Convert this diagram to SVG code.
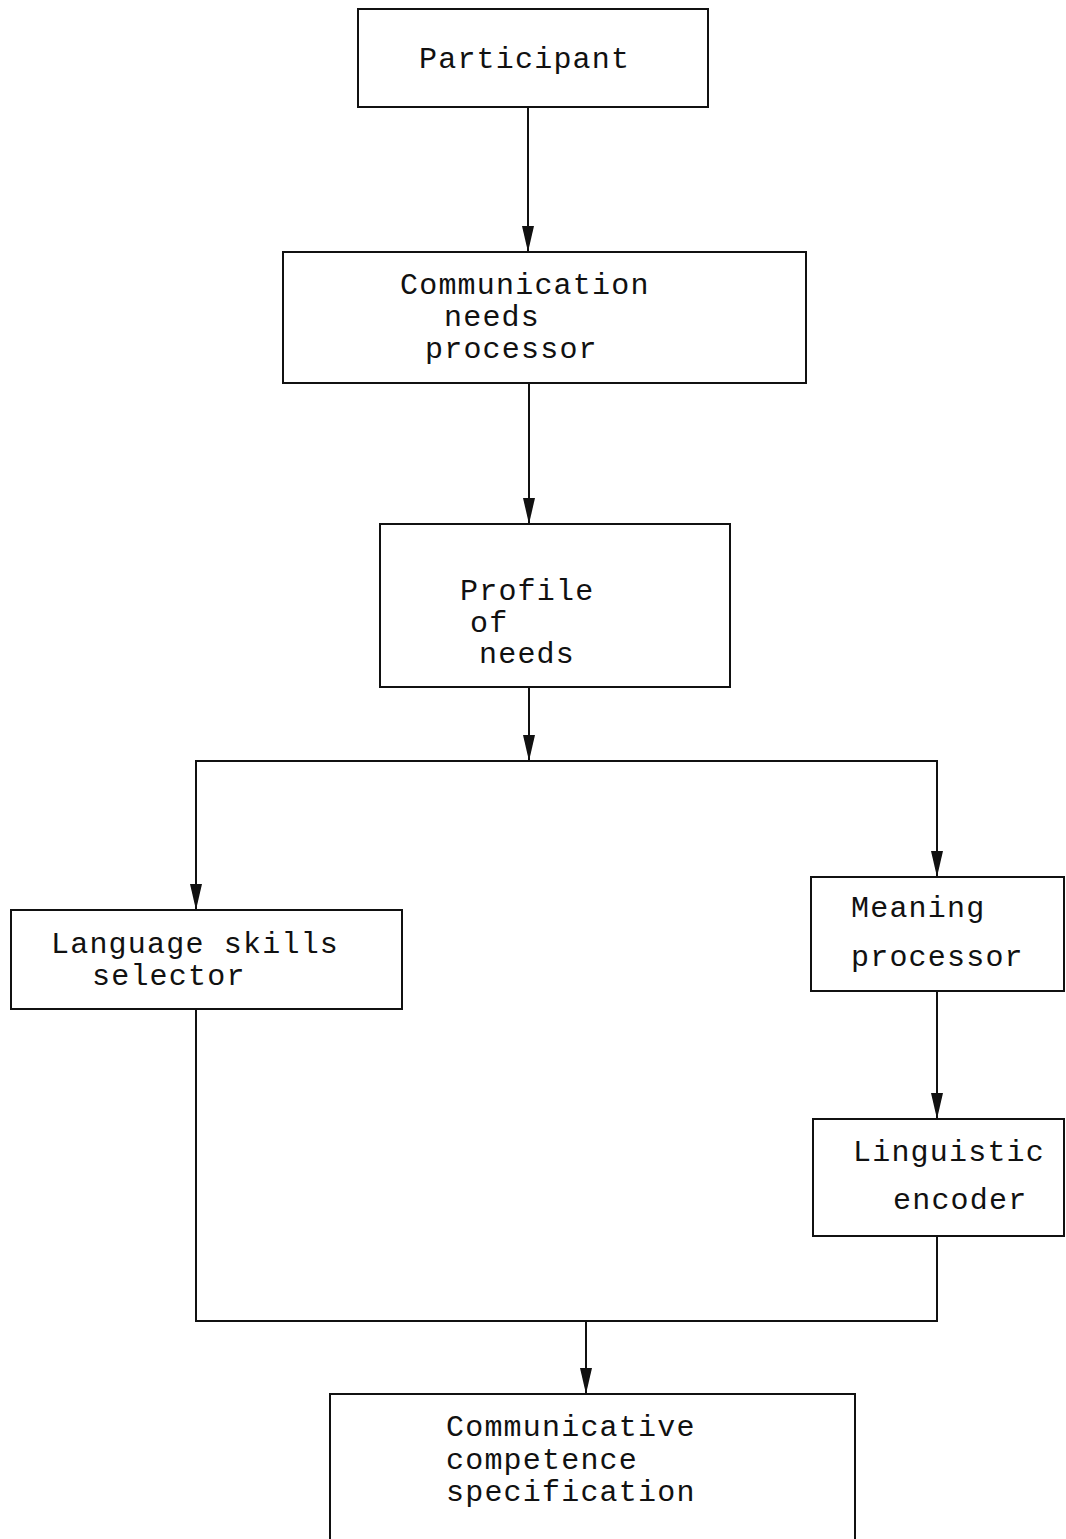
<svg xmlns="http://www.w3.org/2000/svg" width="1066" height="1539" viewBox="0 0 1066 1539">
<style>
.box{fill:#fff;stroke:#111;stroke-width:2}
.t{font-family:"Liberation Mono","Courier New",monospace;font-size:30px;letter-spacing:1.2px;fill:#111}
.c{fill:none;stroke:#111;stroke-width:2}
</style>
<defs>
<marker id="ah" viewBox="0 0 26 12" refX="26" refY="6" markerWidth="26" markerHeight="12" markerUnits="userSpaceOnUse" orient="auto">
<path d="M0,0 L26,6 L0,12 Z" fill="#111"/>
</marker>
</defs>
<rect width="1066" height="1539" fill="#fff"/>
<g id="connectors">
<line class="c" x1="528" y1="107" x2="528" y2="252" marker-end="url(#ah)"/>
<line class="c" x1="529" y1="383" x2="529" y2="524" marker-end="url(#ah)"/>
<line class="c" x1="529" y1="687" x2="529" y2="761" marker-end="url(#ah)"/>
<polyline class="c" points="196,910 196,761 937,761 937,877"/>
<line class="c" x1="196" y1="790" x2="196" y2="910" marker-end="url(#ah)"/>
<line class="c" x1="937" y1="790" x2="937" y2="877" marker-end="url(#ah)"/>
<line class="c" x1="937" y1="991" x2="937" y2="1119" marker-end="url(#ah)"/>
<polyline class="c" points="196,1009 196,1321 937,1321 937,1236"/>
<line class="c" x1="586" y1="1321" x2="586" y2="1394" marker-end="url(#ah)"/>
</g>
<g id="participant">
<rect class="box" x="358" y="9" width="350" height="98"/>
<text class="t" x="419" y="68">Participant</text>
</g>
<g id="comm-needs">
<rect class="box" x="283" y="252" width="523" height="131"/>
<text class="t" x="400" y="294">Communication</text>
<text class="t" x="444" y="326">needs</text>
<text class="t" x="425" y="358">processor</text>
</g>
<g id="profile">
<rect class="box" x="380" y="524" width="350" height="163"/>
<text class="t" x="460" y="600">Profile</text>
<text class="t" x="470" y="632">of</text>
<text class="t" x="479" y="663">needs</text>
</g>
<g id="skills">
<rect class="box" x="11" y="910" width="391" height="99"/>
<text class="t" x="51" y="953">Language skills</text>
<text class="t" x="92" y="985">selector</text>
</g>
<g id="meaning">
<rect class="box" x="811" y="877" width="253" height="114"/>
<text class="t" x="851" y="917">Meaning</text>
<text class="t" x="851" y="966">processor</text>
</g>
<g id="encoder">
<rect class="box" x="813" y="1119" width="251" height="117"/>
<text class="t" x="853" y="1161">Linguistic</text>
<text class="t" x="893" y="1209">encoder</text>
</g>
<g id="spec">
<rect class="box" x="330" y="1394" width="525" height="160"/>
<text class="t" x="446" y="1436">Communicative</text>
<text class="t" x="446" y="1469">competence</text>
<text class="t" x="446" y="1501">specification</text>
</g>
</svg>
